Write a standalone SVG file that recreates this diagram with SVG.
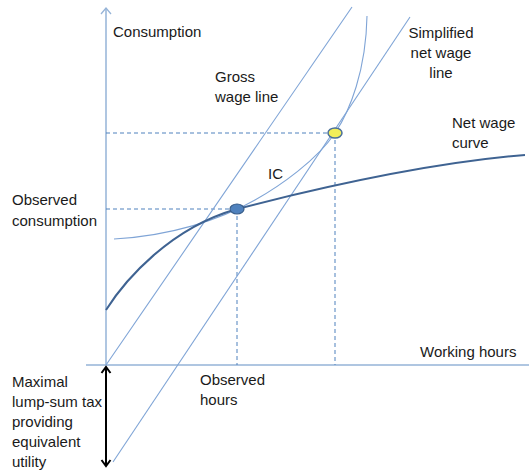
<svg xmlns="http://www.w3.org/2000/svg" width="529" height="475" viewBox="0 0 529 475">
<style>
  text { font-family: "Liberation Sans", Arial, sans-serif; font-size: 15px; fill: #1a1a1a; }
  .thin { fill: none; stroke: #7fa4d6; stroke-width: 1.1; }
  .axis { fill: none; stroke: #95b3d7; stroke-width: 1.5; }
  .dash { fill: none; stroke: #4f81bd; stroke-width: 1; stroke-dasharray: 4 3; }
</style>
<defs>
  <marker id="axhead" markerWidth="14" markerHeight="14" refX="12" refY="7" orient="auto" markerUnits="userSpaceOnUse" viewBox="0 0 14 14">
    <path d="M6,2 L12,7 L6,12" fill="none" stroke="#95b3d7" stroke-width="1.3"/>
  </marker>
  <marker id="blk" markerWidth="14" markerHeight="14" refX="12" refY="7" orient="auto-start-reverse" markerUnits="userSpaceOnUse" viewBox="0 0 14 14">
    <path d="M6,2.5 L12,7 L6,11.5" fill="none" stroke="#000" stroke-width="2"/>
  </marker>
</defs>
<g id="axes">
  <line class="axis" x1="106" y1="365" x2="106" y2="8" marker-end="url(#axhead)"/>
  <line class="axis" x1="86" y1="365" x2="529" y2="365"/>
</g>
<g id="connectors">
  <line class="dash" x1="106" y1="133" x2="335" y2="133"/>
  <line class="dash" x1="335" y1="133" x2="335" y2="365"/>
  <line class="dash" x1="106" y1="209" x2="237" y2="209"/>
  <line class="dash" x1="237" y1="209" x2="237" y2="365"/>
  <line class="thin" x1="106" y1="365" x2="352" y2="7"/>
  <line class="thin" x1="113" y1="462" x2="410" y2="17"/>
  <path class="thin" d="M114,239 C170,236 220,220 255,200 C280,186 317,160 335,133 C350,111 366,70 367,16"/>
  <path fill="none" stroke="#3f6392" stroke-width="2" d="M106,310 C125,280 170,228 237,209 C330,185 440,162 525,155"/>
  <line x1="106" y1="367" x2="106" y2="466" stroke="#000" stroke-width="2" marker-start="url(#blk)" marker-end="url(#blk)"/>
</g>
<g id="observed-point">
  <ellipse cx="237" cy="209" rx="7" ry="5" fill="#4f81bd" stroke="#385d8a" stroke-width="1.2"/>
</g>
<g id="simplified-point">
  <ellipse cx="335" cy="133" rx="7" ry="5" fill="#f2ee5a" stroke="#4a6f9a" stroke-width="1.5"/>
</g>
<g id="labels">
  <text x="113" y="37">Consumption</text>
  <text x="215" y="82">Gross</text>
  <text x="215" y="102">wage line</text>
  <text x="268" y="179">IC</text>
  <text x="441" y="38" text-anchor="middle">Simplified</text>
  <text x="441" y="58" text-anchor="middle">net wage</text>
  <text x="441" y="78" text-anchor="middle">line</text>
  <text x="452" y="128">Net wage</text>
  <text x="452" y="148">curve</text>
  <text x="12" y="205">Observed</text>
  <text x="12" y="226">consumption</text>
  <text x="420" y="357">Working hours</text>
  <text x="200" y="385">Observed</text>
  <text x="200" y="405">hours</text>
  <text x="12" y="387">Maximal</text>
  <text x="12" y="407">lump-sum tax</text>
  <text x="12" y="427">providing</text>
  <text x="12" y="447">equivalent</text>
  <text x="12" y="467">utility</text>
</g>
</svg>
